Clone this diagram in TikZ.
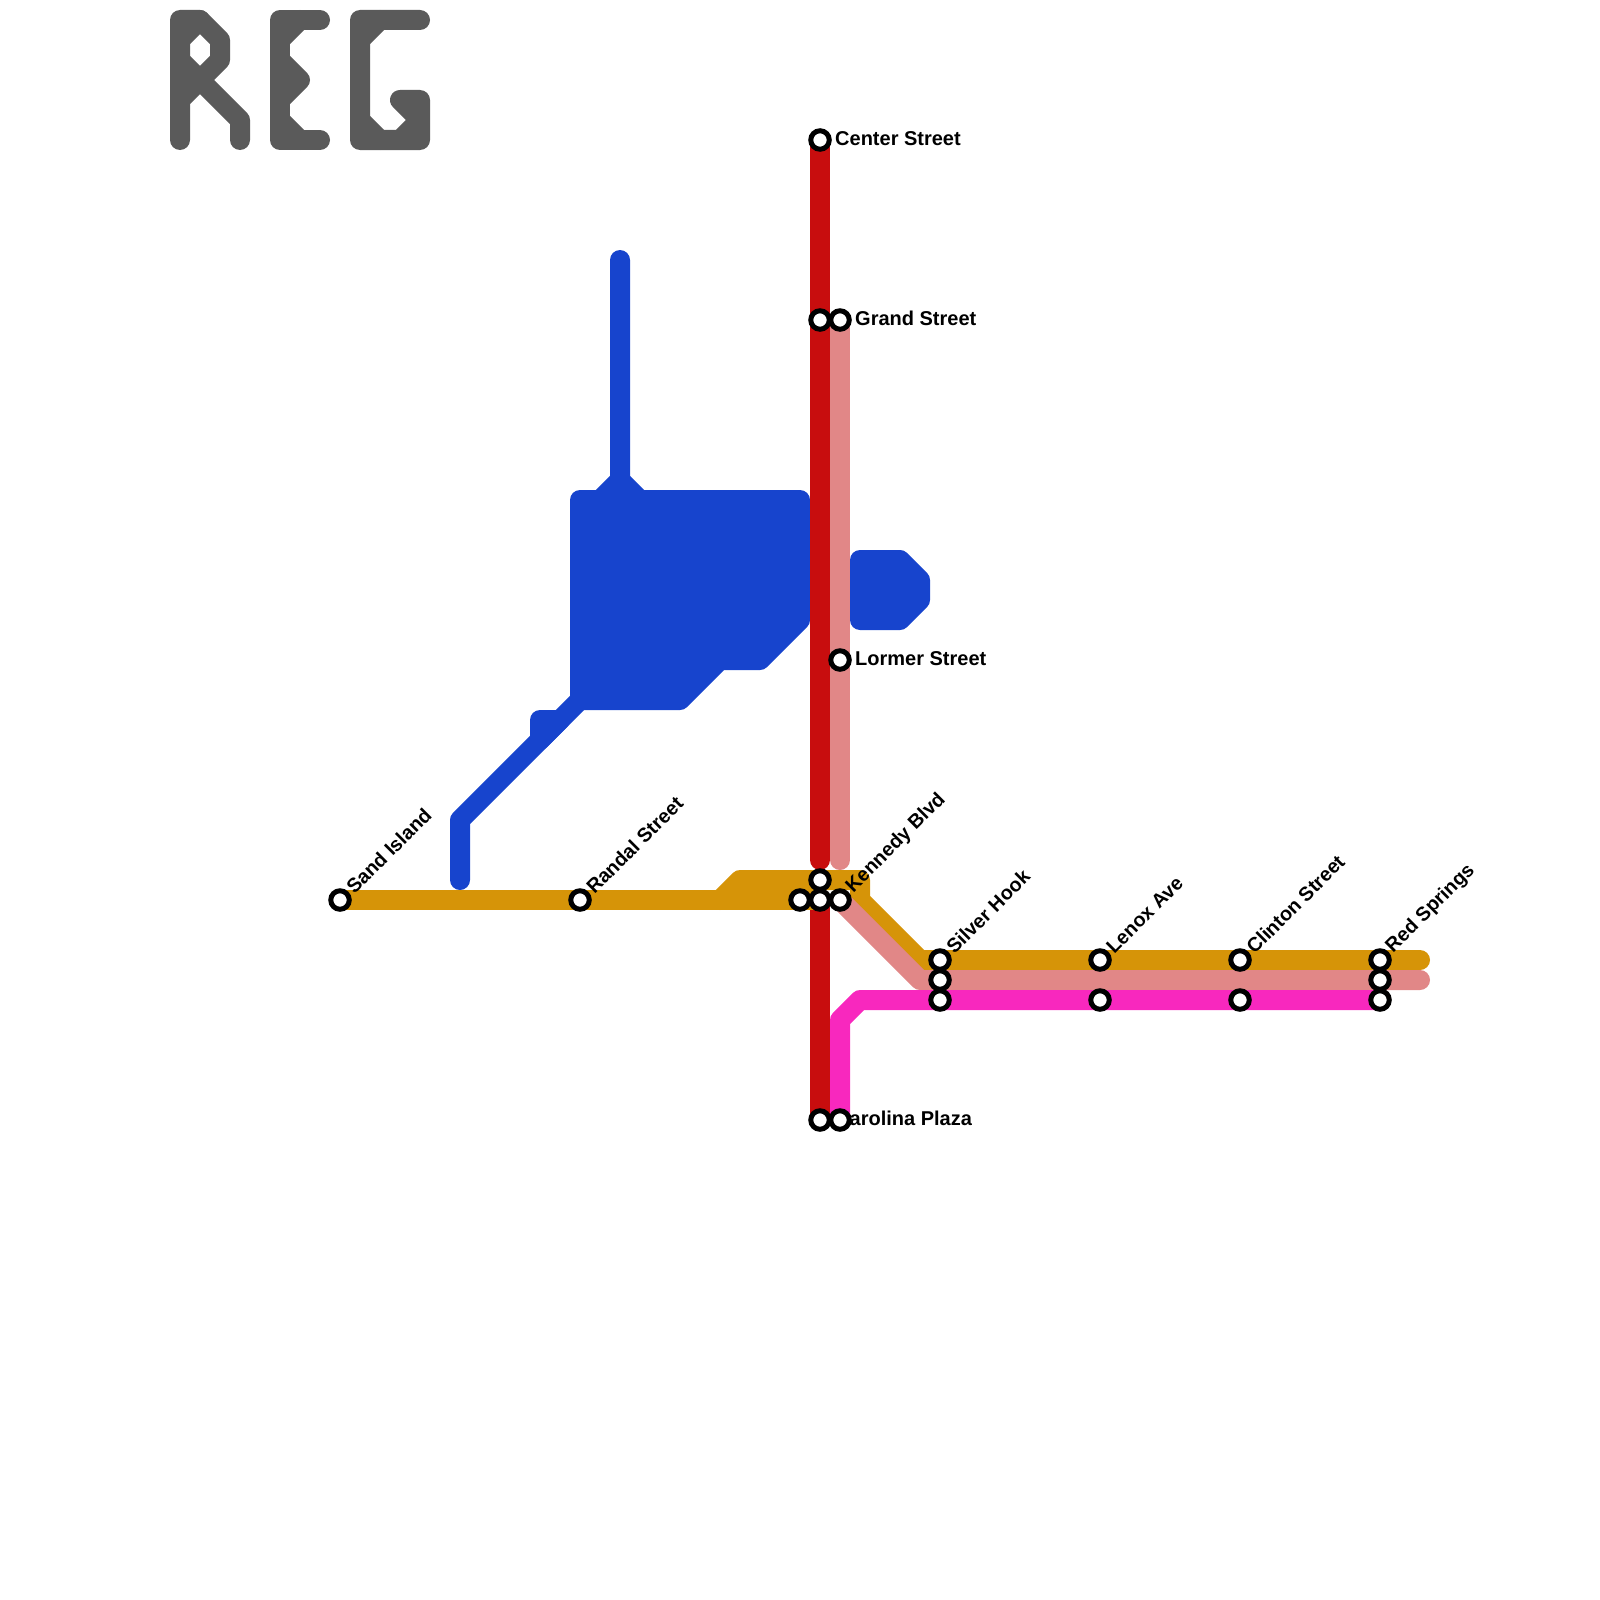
\documentclass[tikz,border=0pt]{standalone}
\usepackage{fontspec}
\setmainfont{Liberation Sans}
\usetikzlibrary{backgrounds}
\definecolor{linered}{RGB}{200,13,14}
\definecolor{linesalmon}{RGB}{225,135,135}
\definecolor{linegold}{RGB}{214,148,8}
\definecolor{linepink}{RGB}{248,40,190}
\definecolor{lineblue}{RGB}{23,68,205}
\definecolor{logogrey}{RGB}{90,90,90}

\begin{document}
\begin{tikzpicture}[
    x=1pt,
    y=-1pt,
    station/.style={circle,draw=black,fill=white,line width=5pt,inner sep=0pt,minimum size=18.5pt},
    stationlabel/.style={font=\fontsize{20}{24}\selectfont\bfseries,inner sep=0pt,anchor=west},
    slantlabel/.style={stationlabel,font=\fontsize{19.7}{24}\selectfont\bfseries,rotate=45},
    metroline/.style={line width=20pt,line cap=round,line join=round}
]
  \useasboundingbox (0,0) rectangle (1600,1600);

  \node[station] (centerSt) at (820,140) {};
  \node[station] (grandL) at (820,320) {};
  \node[station] (grandR) at (840,320) {};
  \node[station] (lormer) at (840,660) {};
  \node[station] (kennedyT) at (820,880) {};
  \node[station] (kennedyL) at (800,900) {};
  \node[station] (kennedyR) at (840,900) {};
  \node[station] (kennedyC) at (820,900) {};
  \node[station] (sand) at (340,900) {};
  \node[station] (randal) at (580,900) {};
  \foreach \name/\px in {silver/940,lenox/1100,clinton/1240,springs/1380} {
    \node[station] (\name A) at (\px,960) {};
    \node[station] (\name C) at (\px,1000) {};
  }
  \node[station] (silverB) at (940,980) {};
  \node[station] (springsB) at (1380,980) {};

  \node[station] (carolinaL) at (820,1120) {};
  \node[stationlabel] (carolinaText) at ([shift={(15,-1.5)}]carolinaL.center) {Carolina Plaza};
  \node[station] (carolinaR) at (840,1120) {};

  \node[stationlabel] (centerText) at ([shift={(15,-1.5)}]centerSt.center) {Center Street};
  \node[stationlabel] (grandText) at ([shift={(15,-1.5)}]grandR.center) {Grand Street};
  \node[stationlabel] (lormerText) at ([shift={(15,-1.5)}]lormer.center) {Lormer Street};
  \node[slantlabel] (sandText) at ([shift={(9.5,-10)}]sand.center) {Sand Island};
  \node[slantlabel] (randalText) at ([shift={(9.5,-10)}]randal.center) {Randal Street};
  \node[slantlabel] (kennedyText) at ([shift={(9.5,-10)}]kennedyR.center) {Kennedy Blvd};
  \node[slantlabel] (silverText) at ([shift={(9.5,-10)}]silverA.center) {Silver Hook};
  \node[slantlabel] (lenoxText) at ([shift={(9.5,-10)}]lenoxA.center) {Lenox Ave};
  \node[slantlabel] (clintonText) at ([shift={(9.5,-10)}]clintonA.center) {Clinton Street};
  \node[slantlabel] (springsText) at ([shift={(9.5,-10)}]springsA.center) {Red Springs};

  \coordinate (redStop) at (820,860);
  \coordinate (salmonStop) at (840,860);
  \coordinate (goldFork) at (720,900);
  \coordinate (goldEnd) at (1420,960);
  \coordinate (salmonEnd) at (1420,980);

  \begin{scope}[on background layer]
    % blue line, no stations
    \draw[metroline,lineblue,fill=lineblue] (580,500) -- (800,500) -- (800,620) -- (760,660)
      -- (720,660) -- (680,700) -- (580,700) -- cycle;
    \draw[metroline,lineblue,fill=lineblue] (860,560) -- (900,560) -- (920,580) -- (920,600)
      -- (900,620) -- (860,620) -- cycle;
    \draw[metroline,lineblue,fill=lineblue] (540,740) -- (540,720) -- (560,720) -- cycle;
    \draw[metroline,lineblue] (460,880) -- (460,820) -- (580,700);
    \draw[metroline,lineblue] (620,260) -- (620,480) -- (600,500);
    \draw[metroline,lineblue] (620,480) -- (640,500);

    \draw[metroline,linered] (centerSt.center) -- (grandL.center) -- (redStop);
    \draw[metroline,linered] (kennedyC.center) -- (carolinaL.center);
    \draw[metroline,linesalmon] (grandR.center) -- (lormer.center) -- (salmonStop);

    \draw[metroline,linegold] (sand.center) -- (randal.center) -- (kennedyC.center);
    \draw[metroline,linegold] (goldFork) -- (740,880) -- (860,880) -- (860,900) -- (920,960)
      -- (silverA.center) -- (lenoxA.center) -- (clintonA.center) -- (springsA.center) -- (goldEnd);
    \draw[metroline,linesalmon] (kennedyR.center) -- (920,980) -- (silverB.center)
      -- (springsB.center) -- (salmonEnd);
    \draw[metroline,linepink] (carolinaR.center) -- (840,1020) -- (860,1000) -- (silverC.center)
      -- (lenoxC.center) -- (clintonC.center) -- (springsC.center);
  \end{scope}

  % logo letters
  \draw[metroline,logogrey] (180,140) -- (180,20) -- (200,20) -- (220,40) -- (220,60) -- (180,100);
  \draw[metroline,logogrey] (180,40) -- (200,20);
  \draw[metroline,logogrey] (180,60) -- (240,120) -- (240,140);
  \draw[metroline,logogrey] (320,20) -- (280,20) -- (280,140) -- (320,140);
  \draw[metroline,logogrey] (280,40) -- (300,20);
  \draw[metroline,logogrey] (280,60) -- (300,80) -- (280,100);
  \draw[metroline,logogrey] (280,120) -- (300,140);
  \draw[metroline,logogrey] (420,20) -- (360,20) -- (360,140) -- (420,140) -- (420,100) -- (400,100)
    -- (420,120) -- (400,140);
  \draw[metroline,logogrey] (360,40) -- (380,20);
  \draw[metroline,logogrey] (360,120) -- (380,140);
\end{tikzpicture}
\end{document}
